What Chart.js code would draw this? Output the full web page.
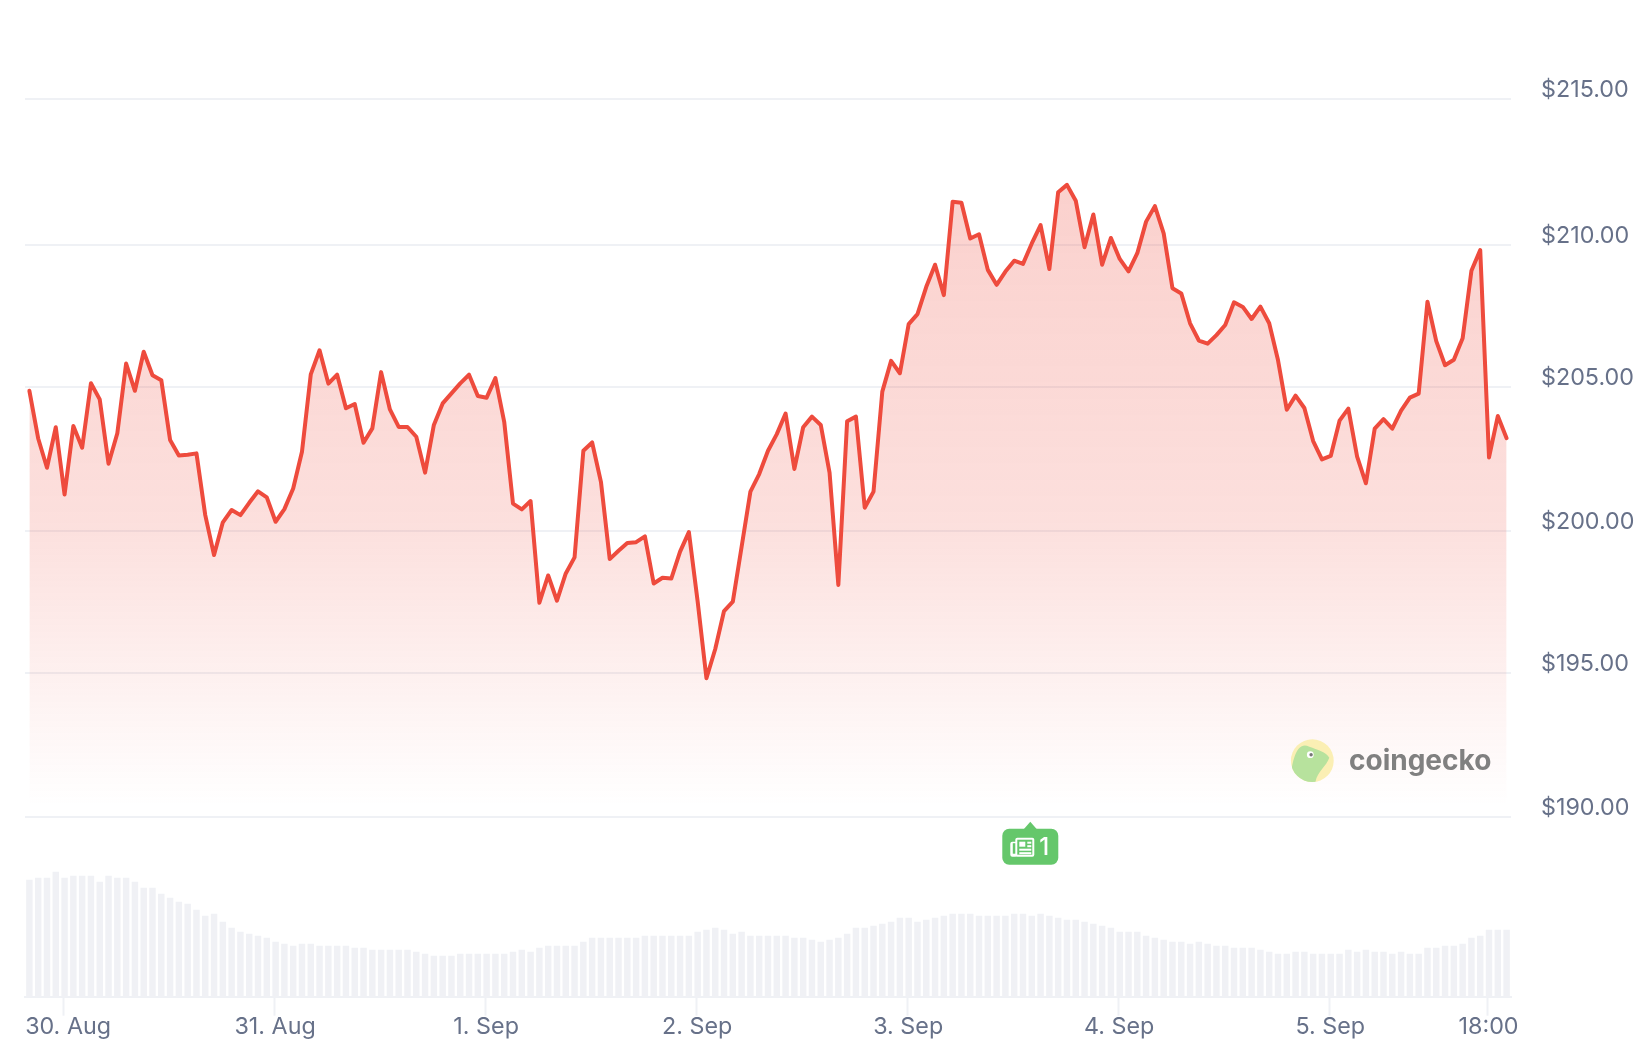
<!DOCTYPE html>
<html>
<head>
<meta charset="utf-8">
<title>Price chart</title>
<script src="https://cdn.jsdelivr.net/npm/chart.js@4/dist/chart.umd.min.js"></script>
<style>
  html, body { margin: 0; padding: 0; background: #fff; }
  canvas { display: block; }
</style>
</head>
<body>
<canvas id="chart" width="1648" height="1064" role="img" aria-label="Price in dollars, 30 Aug to 5 Sep"></canvas>
<script>
const prices = [
  204.83, 203.17, 202.15, 203.56, 201.22, 203.60, 202.85, 205.09, 204.53, 202.29,
  203.35, 205.78, 204.83, 206.19, 205.37, 205.20, 203.12, 202.58, 202.60, 202.65,
  200.50, 199.11, 200.25, 200.68, 200.50, 200.93, 201.33, 201.12, 200.27, 200.71,
  201.43, 202.71, 205.40, 206.24, 205.08, 205.39, 204.22, 204.37, 203.02, 203.52,
  205.48, 204.18, 203.57, 203.57, 203.23, 201.98, 203.64, 204.39, 204.74, 205.09,
  205.39, 204.65, 204.59, 205.27, 203.75, 200.90, 200.70, 200.99, 197.45, 198.40,
  197.52, 198.47, 199.03, 202.74, 203.03, 201.66, 198.97, 199.26, 199.53, 199.56,
  199.76, 198.12, 198.32, 198.29, 199.23, 199.91, 197.49, 194.82, 195.84, 197.16,
  197.49, 199.40, 201.32, 201.93, 202.74, 203.32, 204.04, 202.11, 203.56, 203.93,
  203.64, 201.98, 198.07, 203.77, 203.93, 200.76, 201.32, 204.80, 205.87, 205.44,
  207.15, 207.50, 208.45, 209.22, 208.16, 211.41, 211.38, 210.13, 210.28, 209.04,
  208.52, 208.98, 209.36, 209.25, 209.96, 210.60, 209.07, 211.74, 212.00, 211.45,
  209.83, 210.97, 209.22, 210.15, 209.42, 208.99, 209.62, 210.72, 211.26, 210.31,
  208.40, 208.22, 207.18, 206.58, 206.47, 206.77, 207.12, 207.91, 207.75, 207.33,
  207.76, 207.18, 205.90, 204.17, 204.66, 204.23, 203.08, 202.44, 202.56, 203.79,
  204.21, 202.54, 201.61, 203.51, 203.84, 203.51, 204.14, 204.59, 204.73, 207.93,
  206.56, 205.72, 205.91, 206.66, 209.01, 209.73, 202.51, 203.95, 203.18
];

const volumes = [
  11.67, 11.87, 11.87, 12.47, 11.87, 12.07, 12.07, 12.07, 11.47, 12.07,
  11.87, 11.87, 11.47, 10.87, 10.87, 10.27, 9.87, 9.47, 9.27, 8.67,
  8.07, 8.27, 7.47, 6.87, 6.47, 6.27, 6.07, 5.87, 5.47, 5.27,
  5.07, 5.27, 5.27, 5.07, 5.07, 5.07, 5.07, 4.87, 4.87, 4.67,
  4.67, 4.67, 4.67, 4.67, 4.47, 4.27, 4.07, 4.07, 4.07, 4.27,
  4.27, 4.27, 4.27, 4.27, 4.27, 4.47, 4.67, 4.47, 4.87, 5.07,
  5.07, 5.07, 5.07, 5.47, 5.87, 5.87, 5.87, 5.87, 5.87, 5.87,
  6.07, 6.07, 6.07, 6.07, 6.07, 6.07, 6.47, 6.67, 6.87, 6.67,
  6.27, 6.47, 6.07, 6.07, 6.07, 6.07, 6.07, 5.87, 5.87, 5.67,
  5.47, 5.67, 5.87, 6.27, 6.87, 6.87, 7.07, 7.27, 7.47, 7.87,
  7.87, 7.47, 7.67, 7.87, 8.07, 8.27, 8.27, 8.27, 8.07, 8.07,
  8.07, 8.07, 8.27, 8.27, 8.07, 8.27, 8.07, 7.87, 7.67, 7.67,
  7.47, 7.27, 7.07, 6.87, 6.47, 6.47, 6.47, 6.07, 5.87, 5.67,
  5.47, 5.47, 5.27, 5.47, 5.27, 5.07, 5.07, 4.87, 4.87, 4.87,
  4.67, 4.47, 4.27, 4.27, 4.47, 4.47, 4.27, 4.27, 4.27, 4.27,
  4.67, 4.47, 4.67, 4.47, 4.47, 4.27, 4.47, 4.27, 4.27, 4.87,
  4.87, 5.07, 5.07, 5.27, 5.87, 6.07, 6.67, 6.67, 6.67
];

const hours = prices.map((_, i) => i);
// gridlines sit slightly off the round prices in the picture
const priceGridValues = [190, 195.01, 199.96, 204.97, 209.91, 215];
const priceTickLabels = ["$190.00", "$195.00", "$200.00", "$205.00", "$210.00", "$215.00"];
const timeTickHours = [3.83, 27.83, 51.83, 75.83, 99.83, 123.83, 147.83, 165.83];
const timeTickLabels = ["30. Aug", "31. Aug", "1. Sep", "2. Sep", "3. Sep", "4. Sep", "5. Sep", "18:00"];
const newsHour = 113.83;
const newsCount = "1";

const textColor = "#677189";
const gridColor = "#eff1f5";
const lineColor = "#ee4b3d";

function fillGradient(ctx) {
  const { chart } = ctx;
  const y = chart.scales.y;
  if (!y || !Number.isFinite(y.top) || !Number.isFinite(y.bottom)) return "rgba(238,75,61,0.2)";
  const g = chart.ctx.createLinearGradient(0, y.top, 0, y.bottom);
  g.addColorStop(0, "rgba(238,75,61,0.28)");
  g.addColorStop(0.587, "rgba(238,75,61,0.175)");
  g.addColorStop(0.986, "rgba(238,75,61,0)");
  return g;
}

function roundBox(c, x, y, w, h, r) {
  c.beginPath();
  c.roundRect(x, y, w, h, r);
}

// news flag under the price area and the watermark
const overlays = {
  id: "overlays",
  beforeDraw(chart) {
    // the first date label is pushed in from the left edge
    const first = chart.scales.x.getLabelItems(chart.chartArea)[0];
    first.options.translation = [first.options.translation[0] + 4, first.options.translation[1]];
  },
  afterDatasetsDraw(chart) {
    const c = chart.ctx;
    const cx = chart.scales.x.getPixelForValue(newsHour);
    const base = chart.scales.y.bottom;

    c.save();
    c.fillStyle = "#65c76b";
    roundBox(c, cx - 28, base + 12, 56, 36, 7);
    c.fill();
    c.beginPath();
    c.moveTo(cx - 7, base + 13);
    c.lineTo(cx, base + 5);
    c.lineTo(cx + 7, base + 13);
    c.closePath();
    c.fill();

    // newspaper icon
    const ix = cx - 20, iy = base + 21;
    c.fillStyle = "#fff";
    roundBox(c, ix + 5, iy, 19, 19, 2);
    c.fill();
    roundBox(c, ix, iy + 4, 7, 15, 2);
    c.fill();
    c.fillStyle = "#65c76b";
    c.fillRect(ix + 2.5, iy + 5.5, 2.5, 10.5);
    c.fillRect(ix + 7, iy + 2, 15, 15);
    c.fillStyle = "#fff";
    c.fillRect(ix + 9, iy + 4, 6, 5);
    c.fillRect(ix + 17, iy + 4, 4, 2);
    c.fillRect(ix + 17, iy + 7.5, 4, 2);
    c.fillRect(ix + 9, iy + 11, 12, 2);
    c.fillRect(ix + 9, iy + 14.5, 12, 2);

    c.font = "500 24px Inter";
    c.textAlign = "center";
    c.textBaseline = "middle";
    c.fillText(newsCount, cx + 14, base + 31);

    // watermark
    const lx = 1312.3, ly = 760.7, lr = 21.4;
    c.beginPath();
    c.arc(lx, ly, lr, 0, Math.PI * 2);
    c.fillStyle = "#fbefb4";
    c.fill();
    c.save();
    c.clip();
    c.beginPath();
    c.moveTo(lx - 21, ly + 10);
    c.bezierCurveTo(lx - 19, ly - 2, lx - 15, ly - 20, lx - 3, ly - 14);
    c.bezierCurveTo(lx + 5, ly - 11, lx + 14, ly - 9, lx + 17, ly - 3);
    c.bezierCurveTo(lx + 14, ly + 6, lx + 5, ly + 10, lx + 3, ly + 22);
    c.lineTo(lx - 12, ly + 24);
    c.closePath();
    c.fillStyle = "#b7e29d";
    c.fill();
    c.restore();
    c.beginPath();
    c.arc(lx - 2, ly - 6, 3.4, 0, Math.PI * 2);
    c.fillStyle = "#fff";
    c.fill();
    c.beginPath();
    c.arc(lx - 1.2, ly - 6, 1.7, 0, Math.PI * 2);
    c.fillStyle = "#777";
    c.fill();

    c.font = "700 28px Inter";
    c.fillStyle = "#808080";
    c.textAlign = "left";
    c.textBaseline = "alphabetic";
    c.fillText("coingecko", 1349, 770);
    c.restore();
  }
};

new Chart(document.getElementById("chart"), {
  data: {
    labels: hours,
    datasets: [
      {
        type: "line",
        data: prices,
        yAxisID: "y",
        borderColor: lineColor,
        borderWidth: 4,
        borderJoinStyle: "round",
        borderCapStyle: "round",
        pointRadius: 0,
        tension: 0,
        fill: "start",
        backgroundColor: fillGradient,
        order: 0,
      },
      {
        type: "bar",
        data: volumes,
        yAxisID: "yVol",
        backgroundColor: "#f0f1f5",
        barThickness: 5.8,
        borderWidth: 0,
        order: 1,
      },
    ],
  },
  options: {
    responsive: false,
    animation: false,
    devicePixelRatio: 1,
    layout: { padding: { left: 25, top: 98.7, right: 0, bottom: 0 } },
    plugins: {
      legend: { display: false },
      title: { display: false },
      tooltip: { enabled: false },
    },
    scales: {
      x: {
        type: "category",
        offset: true,
        afterBuildTicks: (scale) => {
          scale.ticks = timeTickHours.map((value) => ({ value }));
        },
        afterFit: (scale) => {
          scale.height = 67.3;
        },
        grid: {
          offset: false,
          drawOnChartArea: false,
          drawTicks: true,
          tickLength: 19,
          tickWidth: 2,
          tickColor: gridColor,
        },
        border: { color: gridColor, width: 2 },
        ticks: {
          autoSkip: false,
          maxRotation: 0,
          padding: -3,
          labelOffset: 1,
          color: textColor,
          font: { family: "Inter", size: 23.3 },
          callback: (_, i) => timeTickLabels[i],
        },
      },
      y: {
        position: "right",
        stack: "panes",
        stackWeight: 718,
        min: 190,
        max: 215,
        afterBuildTicks: (scale) => {
          scale.ticks = priceGridValues.map((value) => ({ value }));
        },
        afterFit: (scale) => {
          scale.width = 137;
        },
        grid: { color: gridColor, lineWidth: 2, drawTicks: false },
        border: { display: false },
        ticks: {
          padding: 30,
          labelOffset: -9,
          color: textColor,
          font: { family: "Inter", size: 23.3 },
          callback: (_, i) => priceTickLabels[i],
        },
      },
      yVol: {
        position: "right",
        stack: "panes",
        stackWeight: 180,
        min: 0,
        max: 18,
        grid: { display: false },
        border: { display: false },
        ticks: { display: false },
      },
    },
  },
  plugins: [overlays],
});
</script>
</body>
</html>
